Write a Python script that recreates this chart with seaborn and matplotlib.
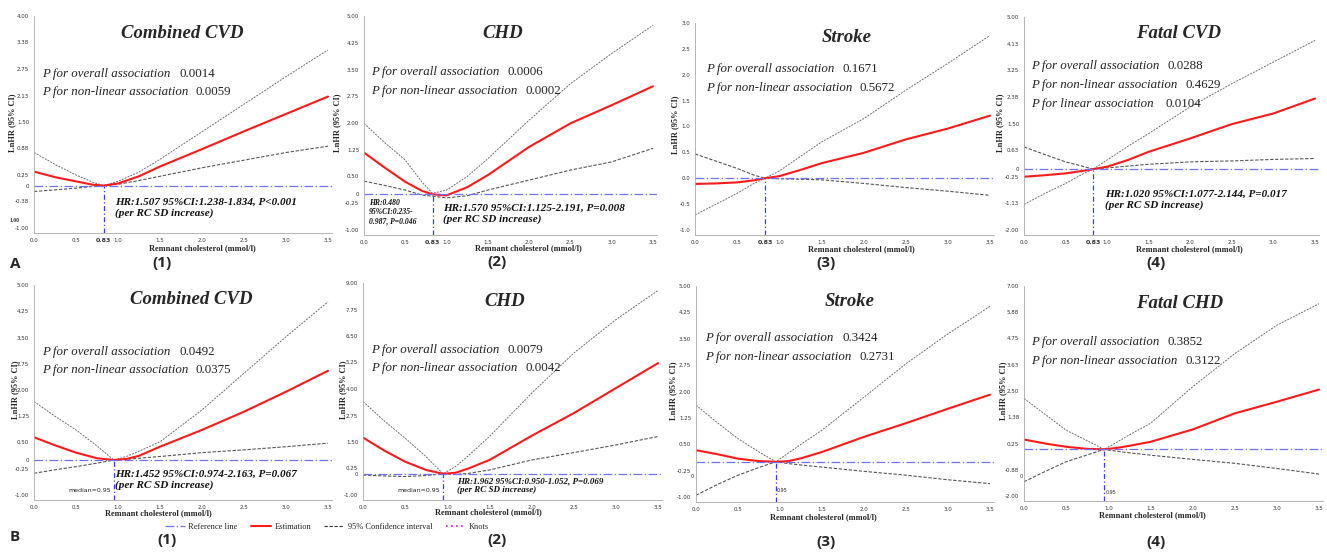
import numpy as np
import pandas as pd
import matplotlib
matplotlib.use("Agg")
import matplotlib.pyplot as plt
from matplotlib.lines import Line2D
import seaborn as sns

# ---------------- data ----------------
xa = [0.0, 0.25, 0.5, 0.7, 0.83, 1.0, 1.25, 1.5, 2.0, 2.5, 3.0, 3.5]
xb = [0.0, 0.25, 0.5, 0.75, 0.95, 1.1, 1.25, 1.5, 2.0, 2.5, 3.0, 3.5]

a1_est = [0.33, 0.20, 0.10, 0.02, 0.0, 0.05, 0.22, 0.45, 0.86, 1.28, 1.69, 2.10]
a1_up = [0.78, 0.50, 0.25, 0.08, 0.0, 0.10, 0.32, 0.62, 1.27, 1.92, 2.57, 3.20]
a1_lo = [-0.14, -0.10, -0.06, -0.02, 0.0, 0.03, 0.12, 0.22, 0.42, 0.60, 0.78, 0.93]

a2_est = [1.17, 0.75, 0.35, 0.10, 0.0, -0.03, 0.20, 0.54, 1.33, 1.99, 2.50, 3.03]
a2_up = [1.99, 1.45, 0.96, 0.35, 0.03, 0.12, 0.50, 1.00, 2.08, 3.10, 3.95, 4.74]
a2_lo = [0.37, 0.25, 0.12, -0.02, -0.05, -0.10, -0.04, 0.12, 0.40, 0.68, 0.91, 1.29]

a3_est = [-0.11, -0.10, -0.08, -0.04, 0.0, 0.04, 0.16, 0.29, 0.49, 0.75, 0.96, 1.21]
a3_up = [-0.71, -0.50, -0.29, -0.10, 0.0, 0.14, 0.42, 0.70, 1.15, 1.70, 2.22, 2.76]
a3_lo = [0.47, 0.33, 0.19, 0.06, 0.0, -0.01, -0.02, -0.03, -0.10, -0.18, -0.25, -0.33]

a4_est = [-0.25, -0.20, -0.14, -0.06, 0.0, 0.08, 0.30, 0.57, 1.01, 1.48, 1.83, 2.32]
a4_up = [-1.16, -0.80, -0.47, -0.17, 0.0, 0.30, 0.75, 1.17, 2.05, 2.81, 3.52, 4.23]
a4_lo = [0.73, 0.48, 0.24, 0.10, 0.0, 0.04, 0.10, 0.16, 0.24, 0.27, 0.32, 0.35]

b1_est = [0.65, 0.42, 0.21, 0.05, 0.0, 0.03, 0.12, 0.38, 0.86, 1.38, 1.95, 2.55]
b1_up = [1.67, 1.25, 0.86, 0.40, 0.0, 0.10, 0.25, 0.52, 1.43, 2.48, 3.52, 4.52]
b1_lo = [-0.38, -0.28, -0.19, -0.09, 0.0, 0.02, 0.05, 0.10, 0.21, 0.29, 0.38, 0.48]

b2_est = [1.71, 1.10, 0.57, 0.18, 0.0, 0.05, 0.25, 0.65, 1.79, 2.86, 4.04, 5.22]
b2_up = [3.41, 2.50, 1.68, 0.80, 0.0, 0.35, 0.85, 1.76, 3.80, 5.69, 7.27, 8.65]
b2_lo = [-0.06, -0.10, -0.13, -0.08, 0.0, -0.03, 0.02, 0.18, 0.65, 1.00, 1.36, 1.76]

b3_est = [0.33, 0.22, 0.09, 0.02, 0.0, 0.02, 0.10, 0.28, 0.71, 1.10, 1.51, 1.91]
b3_up = [1.61, 1.12, 0.66, 0.28, 0.0, 0.25, 0.50, 0.90, 1.84, 2.79, 3.64, 4.42]
b3_lo = [-0.95, -0.65, -0.38, -0.16, 0.0, -0.05, -0.09, -0.15, -0.27, -0.38, -0.51, -0.62]

b4_est = [0.42, 0.25, 0.11, 0.02, 0.0, 0.06, 0.15, 0.32, 0.85, 1.54, 2.04, 2.56]
b4_up = [2.18, 1.50, 0.82, 0.37, 0.0, 0.30, 0.62, 1.11, 2.68, 4.10, 5.32, 6.24]
b4_lo = [-1.39, -0.95, -0.53, -0.24, 0.0, -0.08, -0.15, -0.25, -0.43, -0.60, -0.82, -1.06]

titles = ["Combined CVD", "CHD", "Stroke", "Fatal CVD",
          "Combined CVD", "CHD", "Stroke", "Fatal CHD"]
y_ranges = [(-1.0, 4.0), (-1.0, 5.0), (-1.0, 3.0), (-2.0, 5.0),
            (-1.0, 5.0), (-1.0, 9.0), (-1.0, 5.0), (-2.0, 7.0)]
y_decimals = [2, 2, 1, 2, 2, 2, 2, 2]
x_ticks = [0.0, 0.5, 1.0, 1.5, 2.0, 2.5, 3.0, 3.5]
p_labels = [
    [("P for overall association", "0.0014"), ("P for non-linear association", "0.0059")],
    [("P for overall association", "0.0006"), ("P for non-linear association", "0.0002")],
    [("P for overall association", "0.1671"), ("P for non-linear association", "0.5672")],
    [("P for overall association", "0.0288"), ("P for non-linear association", "0.4629"),
     ("P for linear association", "0.0104")],
    [("P for overall association", "0.0492"), ("P for non-linear association", "0.0375")],
    [("P for overall association", "0.0079"), ("P for non-linear association", "0.0042")],
    [("P for overall association", "0.3424"), ("P for non-linear association", "0.2731")],
    [("P for overall association", "0.3852"), ("P for non-linear association", "0.3122")],
]
hr_texts = [
    "HR:1.507 95%CI:1.238-1.834, P<0.001\n(per RC SD increase)",
    "HR:1.570 95%CI:1.125-2.191, P=0.008\n(per RC SD increase)",
    None,
    "HR:1.020 95%CI:1.077-2.144, P=0.017\n(per RC SD increase)",
    "HR:1.452 95%CI:0.974-2.163, P=0.067\n(per RC SD increase)",
    "HR:1.962 95%CI:0.950-1.052, P=0.069\n(per RC SD increase)",
    None,
    None,
]
sub_labels = ["(1)", "(2)", "(3)", "(4)", "(1)", "(2)", "(3)", "(4)"]

series = [
    (xa, a1_est, a1_up, a1_lo, 0.83), (xa, a2_est, a2_up, a2_lo, 0.83),
    (xa, a3_est, a3_up, a3_lo, 0.83), (xa, a4_est, a4_up, a4_lo, 0.83),
    (xb, b1_est, b1_up, b1_lo, 0.95), (xb, b2_est, b2_up, b2_lo, 0.95),
    (xb, b3_est, b3_up, b3_lo, 0.95), (xb, b4_est, b4_up, b4_lo, 0.95),
]

# ---------------- layout (pixels) ----------------
W, H = 1327, 552
# x=0 px, x=3.5 px, ymax px, ymin px
geo = [(34, 328, 16, 228), (364, 653, 16, 230), (695, 990, 23, 230), (1024, 1315, 17, 230),
       (34, 328, 285, 495), (363, 658, 283, 495), (696, 990, 286, 497), (1024, 1319, 286, 496)]

sns.set_style("white")
plt.rcParams["font.family"] = ["Liberation Serif", "DejaVu Serif"]

fig = plt.figure(figsize=(W / 100, H / 100), dpi=100)


def ftext(xp, yp, s, **kw):
    fig.text(xp / W, 1 - yp / H, s, **kw)


def fmt_half_up(v, nd):
    s = 1 if v >= 0 else -1
    r = s * np.floor(abs(v) * 10 ** nd + 0.5) / 10 ** nd
    return ("%%.%df" % nd) % r


RED = "#ff1a1a"
GREY = "#6e6e6e"
BLUE = "#7070ff"

XMAX = 3.55
for i in range(8):
    x0, x35, yt, yb = geo[i]
    ymin, ymax = y_ranges[i]
    yr = ymax - ymin
    ylo = ymin - 0.025 * yr
    ppx = (x35 - x0) / 3.5
    ppy = (yb - yt) / yr
    left = x0
    right = x0 + XMAX * ppx
    top = yt
    bottom = yb + (ymin - ylo) * ppy
    ax = fig.add_axes([left / W, 1 - bottom / H, (right - left) / W, (bottom - top) / H])
    xs, est, up, lo, ref = series[i]
    df = pd.DataFrame({"x": xs, "est": est, "up": up, "lo": lo})
    sns.lineplot(data=df, x="x", y="up", ax=ax, color=GREY, lw=0.7, linestyle=(0, (2, 1.2)))
    sns.lineplot(data=df, x="x", y="lo", ax=ax, color="#555555", lw=0.8, linestyle=(0, (3, 1.5)))
    sns.lineplot(data=df, x="x", y="est", ax=ax, color=RED, lw=1.5)
    ax.axhline(0, color=BLUE, lw=0.9, linestyle=(0, (7, 2, 1, 2)))
    ax.plot([ref, ref], [ylo, 0], color="#3b3bff", lw=0.9, linestyle=(0, (4, 2, 1, 2)))
    ax.set_xlim(0, XMAX)
    ax.set_ylim(ylo, ymax)
    yt_vals = list(np.linspace(ymin, ymax, 9))
    ylabels = [fmt_half_up(v, y_decimals[i]) for v in yt_vals]
    if i not in (2, 6, 7):
        yt_vals.append(0.0)
        ylabels.append("0")
    ax.set_yticks(yt_vals)
    ax.set_yticklabels(ylabels)
    if i < 4:
        xt = x_ticks + [0.83]
        xl = ["%.1f" % v for v in x_ticks] + ["0.83"]
    else:
        xt = x_ticks
        xl = ["%.1f" % v for v in x_ticks]
    ax.set_xticks(xt)
    ax.set_xticklabels(xl)
    ax.tick_params(axis="both", labelsize=4, colors="#333333", length=2, width=0.5, pad=1.5,
                   direction="out")
    for lab in ax.get_xticklabels() + ax.get_yticklabels():
        lab.set_family(["DejaVu Sans"])
    if i < 4:
        ax.get_xticklabels()[-1].set_fontweight("bold")
        ax.get_xticklabels()[-1].set_fontsize(4.5)
    ax.tick_params(axis="both", color="#999999")
    for s in ["top", "right"]:
        ax.spines[s].set_visible(False)
    for s in ["left", "bottom"]:
        ax.spines[s].set_color("#aaaaaa")
        ax.spines[s].set_linewidth(0.6)
    ax.set_xlabel("")
    ax.set_ylabel("")
    ax.set_facecolor("white")

# titles
title_pos = [(182, 33), (503, 33), (847, 38), (1179, 33), (191, 300), (505, 302), (850, 302), (1180, 303)]
for (xp, yp), t in zip(title_pos, titles):
    ftext(xp, yp, t, ha="center", va="center", fontsize=13.5, fontweight="bold", fontstyle="italic")

# P texts: (left x, [y per line], [number x per line])
p_pos = [
    (42, [74, 92], [179, 196]),
    (371, [72, 91], [507, 525]),
    (706, [69, 88], [842, 860]),
    (1031, [66, 85, 104], [1167, 1185, 1165]),
    (42, [352, 370], [179, 196]),
    (371, [350, 368], [507, 525]),
    (705, [338, 357], [842, 860]),
    (1031, [342, 361], [1167, 1185]),
]
for i, (xl_, ys, nxs) in enumerate(p_pos):
    for j, (lab, num) in enumerate(p_labels[i]):
        ftext(xl_, ys[j], lab, ha="left", va="center", fontsize=9.3, fontstyle="italic", color="#222222")
        ftext(nxs[j], ys[j], num, ha="left", va="center", fontsize=9.3, color="#222222")

# HR texts
hr_pos = [(115, 208, 8), (443, 214, 8), None, (1105, 200, 8), (115, 480, 8), (457, 486, 6.5), None, None]
for i, t in enumerate(hr_texts):
    if t is None:
        continue
    xp, yp, fs = hr_pos[i]
    ftext(xp, yp, t, ha="left", va="center", fontsize=fs, fontweight="bold", fontstyle="italic",
          linespacing=1.15, color="#111111")
ftext(369, 212, "HR:0.480\n95%CI:0.235-\n0.987, P=0.046", ha="left", va="center", fontsize=5.5,
      fontweight="bold", fontstyle="italic", linespacing=1.2, color="#111111")
ftext(15, 220, "1.00", ha="center", va="center", fontsize=4, fontweight="bold")

# median labels
ftext(111, 491, "median=0.95", ha="right", va="center", fontsize=4.5, family=["DejaVu Sans"])
ftext(440, 491, "median=0.95", ha="right", va="center", fontsize=4.5, family=["DejaVu Sans"])
ftext(777, 490, "0.95", ha="left", va="center", fontsize=3.5, family=["DejaVu Sans"])
ftext(1106, 492, "0.95", ha="left", va="center", fontsize=3.5, family=["DejaVu Sans"])
ftext(692, 476, "0", ha="center", va="center", fontsize=3.5, family=["DejaVu Sans"])
ftext(1021, 477, "0", ha="center", va="center", fontsize=3.5, family=["DejaVu Sans"])

# axis labels
ylab_pos = [(12, 123), (337, 123), (675, 125), (1000, 123), (15, 390), (343, 390), (673, 391), (1003, 391)]
xlab_pos = [(202, 248), (528, 248), (861, 249), (1189, 249), (158, 513), (488, 512), (823, 517), (1152, 515)]
for (xp, yp) in ylab_pos:
    ftext(xp, yp, "LnHR (95% CI)", ha="center", va="center", rotation=90, fontsize=6, fontweight="bold")
for (xp, yp) in xlab_pos:
    ftext(xp, yp, "Remnant cholesterol (mmol/l)", ha="center", va="center", fontsize=6, fontweight="bold")

# sub labels
sub_pos = [(162, 263), (497, 262), (826, 263), (1156, 263), (167, 540), (497, 540), (826, 542), (1156, 542)]
for (xp, yp), s in zip(sub_pos, sub_labels):
    ftext(xp, yp, s, ha="center", va="center", fontsize=11, fontweight="bold", family=["Open Sans", "DejaVu Sans"])
ftext(15, 264, "A", ha="center", va="center", fontsize=11, fontweight="bold", family=["Open Sans", "DejaVu Sans"])
ftext(15, 537, "B", ha="center", va="center", fontsize=11, fontweight="bold", family=["Open Sans", "DejaVu Sans"])

# legend
handles = [
    Line2D([], [], color=BLUE, lw=0.9, linestyle=(0, (7, 2, 1, 2))),
    Line2D([], [], color=RED, lw=1.5),
    Line2D([], [], color="#333333", lw=0.8, linestyle=(0, (3, 1.5))),
    Line2D([], [], color="#ff00ff", lw=1.2, linestyle=(0, (1, 2))),
]
labels = ["Reference line", "Estimation", "95% Confidence interval", "Knots"]
fig.legend(handles, labels, loc="center", bbox_to_anchor=(327 / W, 1 - 527 / H), ncol=4,
           frameon=False, fontsize=6, handlelength=2.4, handletextpad=0.4, columnspacing=1.6)

fig.savefig("out.png", dpi=100, facecolor="white")
